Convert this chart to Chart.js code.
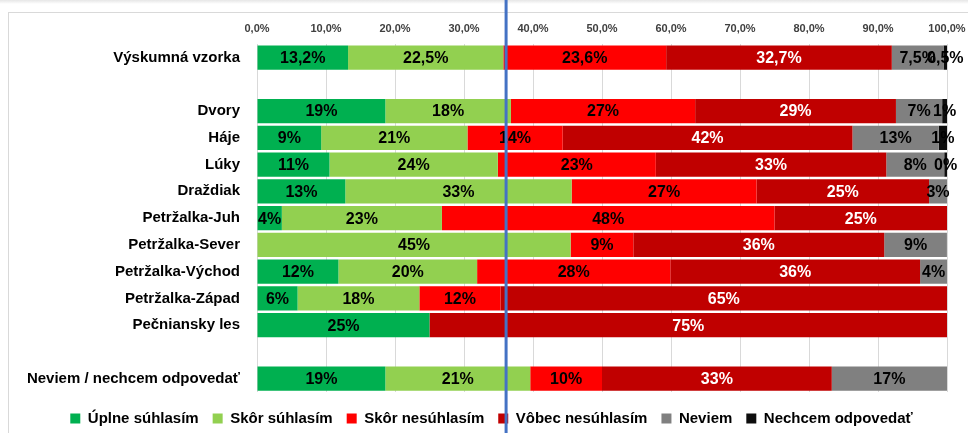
<!DOCTYPE html>
<html>
<head>
<meta charset="utf-8">
<script src="https://cdn.jsdelivr.net/npm/chart.js@4.4.1/dist/chart.umd.min.js"></script>
<style>
  html, body { margin: 0; padding: 0; background: #fff; }
  #wrap { position: relative; width: 968px; height: 433px; overflow: hidden; }
  #topshade { position: absolute; left: 0; top: 0; width: 968px; height: 4px; background: linear-gradient(#e6e6e6, #fff); }
  #frame { position: absolute; left: 8px; top: 12px; width: 1000px; height: 500px; border: 1px solid #d9d9d9; box-sizing: border-box; }
  #cv { position: absolute; left: 0; top: 0; }
</style>
</head>
<body>
<div id="wrap">
  <div id="topshade"></div>
  <div id="frame"></div>
  <canvas id="cv" width="968" height="433"></canvas>
</div>
<script>
// ---- data ----
const categories = [
  'Výskumná vzorka', '', 'Dvory', 'Háje', 'Lúky', 'Draždiak', 'Petržalka-Juh',
  'Petržalka-Sever', 'Petržalka-Východ', 'Petržalka-Západ', 'Pečniansky les', '',
  'Neviem / nechcem odpovedať'
];
const seriesNames = ['Úplne súhlasím', 'Skôr súhlasím', 'Skôr nesúhlasím', 'Vôbec nesúhlasím', 'Neviem', 'Nechcem odpovedať'];
const uplneSuhlasim   = [13.2, null, 18.6,  9.3, 10.5, 12.8,  3.6,  0,     11.8,  5.88, 25, null, 18.6];
const skorSuhlasim    = [22.5, null, 18.2, 21.2, 24.4, 32.8, 23.2, 45.45,  20.1, 17.65,  0, null, 21.0];
const skorNesuhlasim  = [23.6, null, 26.7, 13.8, 22.9, 26.8, 48.2,  9.09,  28.0, 11.76,  0, null, 10.4];
const vobecNesuhlasim = [32.7, null, 29.1, 42.0, 33.4, 25.0, 25.0, 36.36,  36.2, 64.71, 75, null, 33.3];
const neviem          = [ 7.5, null,  6.7, 12.5,  8.4,  2.6,  0,    9.09,   3.9,  0,     0, null, 16.7];
const nechcem         = [ 0.5, null,  0.7,  1.2,  0.4,  0,    0,    0,      0,    0,     0, null,  0];
const labelDecimals   = [1, 0, 0, 0, 0, 0, 0, 0, 0, 0, 0, 0, 0];
const xTicks = [0, 10, 20, 30, 40, 50, 60, 70, 80, 90, 100];
const markerValue = 36.1; // blue reference line

// ---- styles ----
const colors = ['#00B050', '#92D050', '#FF0000', '#C00000', '#808080', '#0D0D0D'];
const labelColors = ['#000', '#000', '#000', '#fff', '#000', '#000'];
const seriesData = [uplneSuhlasim, skorSuhlasim, skorNesuhlasim, vobecNesuhlasim, neviem, nechcem];
const FONT = "'Liberation Sans', Arial, sans-serif";
const LEGEND_DX = 13, LEGEND_DY = 5;

const valueLabels = {
  id: 'valueLabels',
  afterDatasetsDraw(chart) {
    const ctx = chart.ctx;
    ctx.save();
    ctx.font = 'bold 16px ' + FONT;
    ctx.textAlign = 'center';
    ctx.textBaseline = 'middle';
    chart.data.datasets.forEach((ds, di) => {
      const meta = chart.getDatasetMeta(di);
      meta.data.forEach((el, i) => {
        const v = ds.data[i];
        if (v === null || v === undefined || v <= 0) return;
        const d = labelDecimals[i];
        const txt = (d > 0 ? v.toFixed(d).replace('.', ',') : Math.round(v).toString()) + '%';
        ctx.fillStyle = labelColors[di];
        ctx.fillText(txt, (el.x + el.base) / 2, el.y + 1);
      });
    });
    ctx.restore();
  }
};

const markerLine = {
  id: 'markerLine',
  afterDraw(chart) {
    const x = chart.scales.x.getPixelForValue(markerValue);
    const ctx = chart.ctx;
    ctx.save();
    ctx.strokeStyle = '#4472C4';
    ctx.lineWidth = 3;
    ctx.beginPath();
    ctx.moveTo(x, 0);
    ctx.lineTo(x, chart.height);
    ctx.stroke();
    ctx.restore();
  }
};

const legendShift = {
  id: 'legendShift',
  afterUpdate(chart) {
    const lg = chart.legend;
    if (!lg) return;
    lg.left += LEGEND_DX; lg.right += LEGEND_DX;
    lg.top += LEGEND_DY; lg.bottom += LEGEND_DY;
  }
};

new Chart(document.getElementById('cv'), {
  type: 'bar',
  data: {
    labels: categories,
    datasets: seriesData.map((d, i) => ({
      label: seriesNames[i],
      data: d,
      backgroundColor: colors[i],
      borderWidth: 0,
      barPercentage: 0.91,
      categoryPercentage: 1.0
    }))
  },
  options: {
    indexAxis: 'y',
    responsive: false,
    animation: false,
    devicePixelRatio: 1,
    layout: { padding: { left: 10, right: 21, top: 13, bottom: 2 } },
    scales: {
      x: {
        position: 'top',
        stacked: true,
        min: 0, max: 100,
        afterBuildTicks: s => { s.ticks = xTicks.map(v => ({ value: v })); },
        afterFit: s => { s.paddingLeft = 0; s.paddingRight = 0; },
        ticks: {
          callback: v => v.toFixed(1).replace('.', ',') + '%',
          font: { family: FONT, size: 11, weight: 'bold' },
          color: '#404040',
          padding: 9,
          maxRotation: 0
        },
        grid: { color: '#d9d9d9', drawTicks: false },
        border: { display: false }
      },
      y: {
        stacked: true,
        afterFit: s => { s.width = 247; },
        ticks: {
          font: { family: FONT, size: 15, weight: 'bold' },
          color: '#000',
          padding: 9,
          autoSkip: false
        },
        grid: { display: false },
        border: { display: false }
      }
    },
    plugins: {
      legend: {
        position: 'bottom',
        labels: {
          font: { family: FONT, size: 15, weight: 'bold' },
          color: '#000',
          boxWidth: 10,
          boxHeight: 10,
          padding: 14
        }
      },
      tooltip: { enabled: false }
    }
  },
  plugins: [valueLabels, markerLine, legendShift]
});
</script>
</body>
</html>
